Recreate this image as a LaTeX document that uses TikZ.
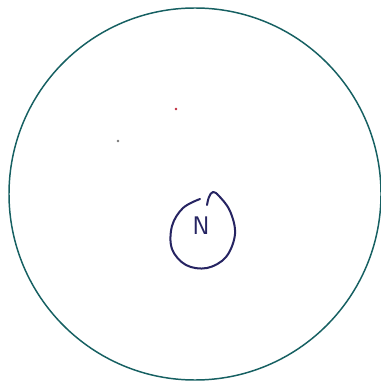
\documentclass[tikz,border=0pt]{standalone}
\usepackage{tikz}
\usetikzlibrary{positioning}
\definecolor{DeepTeal}{RGB}{22,96,98}
\definecolor{InkNavy}{RGB}{38,36,98}
\definecolor{DotRed}{RGB}{190,40,60}
\definecolor{DotGrey}{RGB}{120,120,120}
\tikzset{
  rim/.style={draw=DeepTeal,line width=1.1pt},
  ink/.style={draw=InkNavy,line width=1.5pt,line cap=round,line join=round},
  letter/.style={text=InkNavy,font=\sffamily\fontsize{19}{20}\selectfont,inner sep=0pt},
  speck/.style={circle,inner sep=0pt,minimum size=2.2pt}
}
\begin{document}
\begin{tikzpicture}[x=0.02625cm,y=-0.02625cm]
  \useasboundingbox (0,0) rectangle (381,381);
  \fill[white] (0,0) rectangle (381,381);
  \draw[rim] (195,194) circle[radius=186];
  \node[speck,fill=DotRed] (reddot) at (176,109) {};
  \node[speck,fill=DotGrey] (greydot) at (118,141) {};
  \draw[ink] plot[smooth,tension=0.6] coordinates {(200,199) (183,208) (172,226) (172,249) (186,265) (207,268) (226,257) (235,234) (230,211) (219,196) (213,192) (209,197) (207,205)};
  \node[letter] (nlabel) at (201,226) {N};
\end{tikzpicture}
\end{document}
